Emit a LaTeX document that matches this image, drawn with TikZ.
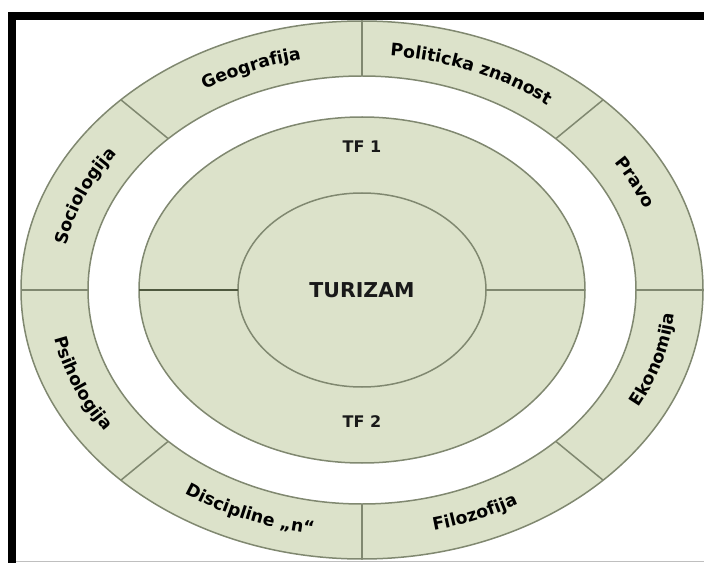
\documentclass[tikz,border=0pt]{standalone}
\usepackage{fontspec}
\usetikzlibrary{decorations.text,calc}
\newfontfamily\dvs{DejaVu Sans}
\definecolor{ringfill}{RGB}{220,226,202}
\definecolor{edgecol}{RGB}{128,136,112}
\definecolor{darkedge}{RGB}{78,88,62}
\newcommand\ringfont{\dvs\bfseries\fontsize{17.3}{19}\selectfont}
\tikzset{
  ell/.style={draw=edgecol, line width=1.5pt},
  centerlabel/.style={font=\dvs\bfseries\fontsize{16}{18}\selectfont, text=black!90},
}
\newcommand\toplabel[2]{%
  \path[decorate,decoration={text along path,text align=center,text={|\ringfont|#2}}]
    (C) ++(#1+30:301pt and 235pt) arc[start angle=#1+30, end angle=#1-30, x radius=301pt, y radius=235pt];}
\newcommand\botlabel[2]{%
  \path[decorate,decoration={text along path,text align=center,text={|\ringfont|#2}}]
    (C) ++(#1-30:314pt and 247pt) arc[start angle=#1-30, end angle=#1+30, x radius=314pt, y radius=247pt];}
\begin{document}
\begin{tikzpicture}[x=1pt,y=1pt]
\useasboundingbox (0,0) rectangle (704,563);
\coordinate (C) at (362,273);
% frame
\fill[black] (8,0) rectangle (16,551);
\fill[black] (8,543) rectangle (704,551);
\draw[black!25, line width=1pt] (16,1.5) -- (704,1.5);
% outer ring
\fill[ringfill, even odd rule] (C) ellipse [x radius=341pt, y radius=269pt]
  (C) ellipse [x radius=274pt, y radius=214pt];
\draw[ell] (C) ellipse [x radius=341pt, y radius=269pt];
\draw[ell] (C) ellipse [x radius=274pt, y radius=214pt];
\foreach \a in {0,45,...,315}
  \draw[ell] ($(C)+(\a:274pt and 214pt)$) -- ($(C)+(\a:341pt and 269pt)$);
% middle and inner
\fill[ringfill] (C) ellipse [x radius=223pt, y radius=173pt];
\draw[ell] (C) ellipse [x radius=223pt, y radius=173pt];
\draw[ell] (C) ellipse [x radius=124pt, y radius=97pt];
\draw[darkedge, line width=2.4pt] ($(C)+(-223pt,0)$) -- ($(C)+(-124pt,0)$);
\draw[ell] ($(C)+(124pt,0)$) -- ($(C)+(223pt,0)$);
% center texts
\node[centerlabel, font=\dvs\bfseries\fontsize{20.5}{22}\selectfont] (tur) at (C) {TURIZAM};
\node[centerlabel] (tf1) at (362,416) {TF 1};
\node[centerlabel] (tf2) at (362,141) {TF 2};
% ring labels
\toplabel{112.5}{Geografija}
\toplabel{67.5}{Politicka znanost}
\toplabel{25}{Pravo}
\toplabel{158}{Sociologija}
\botlabel{-16}{Ekonomija}
\botlabel{-67.5}{Filozofija}
\botlabel{247.5}{Discipline „n“}
\botlabel{202}{Psihologija}
\end{tikzpicture}
\end{document}
